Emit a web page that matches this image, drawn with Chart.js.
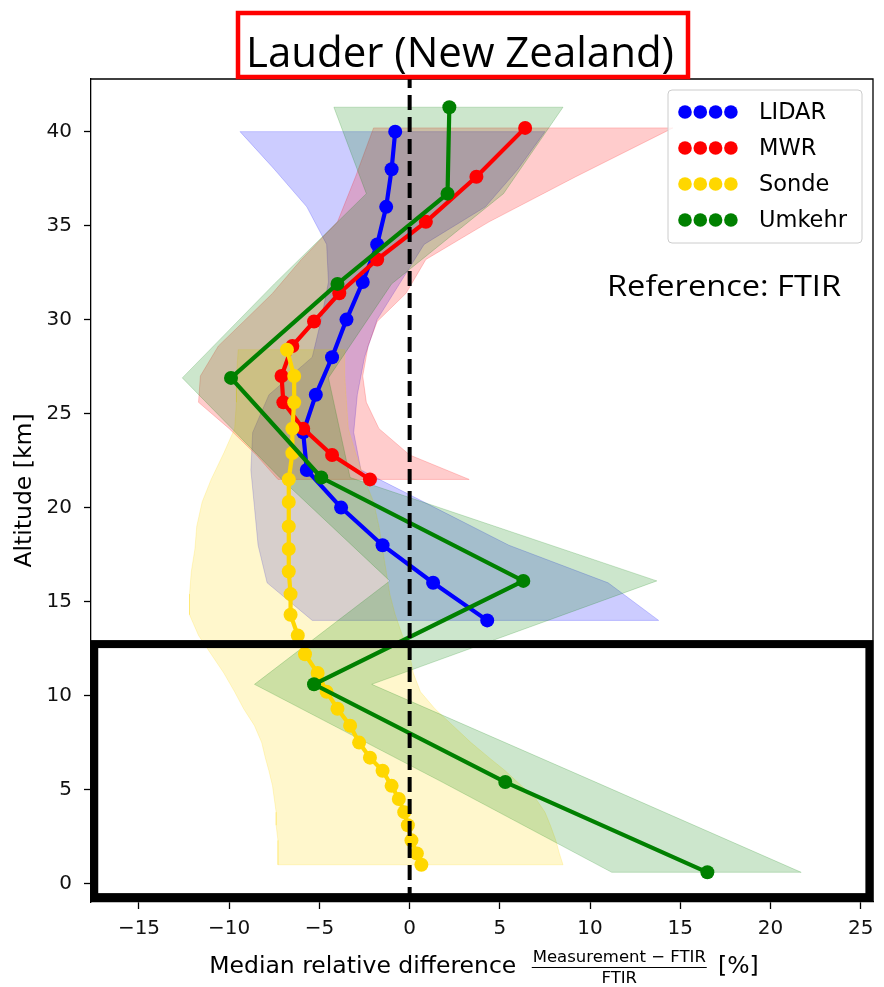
<!DOCTYPE html>
<html lang="en">
<head>
<meta charset="UTF-8">
<title>Lauder (New Zealand)</title>
<script src="https://cdn.jsdelivr.net/npm/chart.js@4.4.1/dist/chart.umd.min.js"></script>
<style>
    html, body { margin: 0; padding: 0; background: #fff; }
    #wrap { width: 884px; height: 987px; }
</style>
</head>
<body>
<div id="wrap"><canvas id="chart" width="884" height="987"></canvas></div>
<script>
// ---- data (x: % difference, y: altitude km) ----
const lidarAlt  = [40, 38, 36, 34, 32, 30, 28, 26, 24, 22, 20, 18, 16, 14];
const lidarDiff = [-0.8, -1.0, -1.3, -1.8, -2.6, -3.5, -4.3, -5.2, -5.9, -5.7, -3.8, -1.5, 1.3, 4.3];
const lidarLow  = [-9.4, -7.5, -5.7, -4.6, -4.5, -4.9, -5.4, -7.8, -8.7, -8.8, -8.6, -8.4, -7.9, -5.4];
const lidarHigh = [7.5, 6.0, 4.2, 0.8, -0.5, -1.8, -2.5, -2.9, -3.1, -2.7, 1.4, 5.5, 11.0, 13.8];

const mwrAlt  = [40.2, 37.6, 35.2, 33.2, 31.4, 29.9, 28.6, 27.0, 25.6, 24.2, 22.8, 21.5];
const mwrDiff = [6.4, 3.7, 0.9, -1.8, -3.9, -5.3, -6.5, -7.1, -7.0, -5.9, -4.3, -2.2];
const mwrLow  = [-2.0, -3.0, -4.0, -6.0, -7.6, -9.2, -10.6, -11.6, -11.7, -10.0, -8.5, -7.3];
const mwrHigh = [14.6, 9.2, 4.4, 0.9, -0.2, -1.8, -2.3, -2.6, -2.4, -1.7, 0.0, 3.3];

const sondeAlt  = [28.4, 27.0, 25.6, 24.2, 22.9, 21.5, 20.3, 19.0, 17.8, 16.6, 15.4, 14.3, 13.2, 12.2,
                   11.2, 10.2, 9.3, 8.4, 7.5, 6.7, 6.0, 5.2, 4.5, 3.8, 3.1, 2.3, 1.6, 1.0];
const sondeDiff = [-6.8, -6.4, -6.4, -6.5, -6.5, -6.7, -6.7, -6.7, -6.7, -6.7, -6.6, -6.6, -6.2, -5.8,
                   -5.1, -4.6, -4.0, -3.3, -2.8, -2.2, -1.5, -1.0, -0.6, -0.3, -0.1, 0.1, 0.4, 0.65];
const sondeLow  = [-9.5, -9.6, -9.6, -9.7, -10.3, -11.0, -11.5, -11.8, -11.9, -12.1, -12.2, -12.2, -11.7, -11.0,
                   -10.3, -9.7, -9.2, -8.6, -8.2, -8.0, -7.8, -7.6, -7.5, -7.4, -7.4, -7.3, -7.3, -7.3];
const sondeHigh = [-3.6, -3.6, -3.5, -3.4, -3.0, -2.5, -2.0, -1.7, -1.5, -1.3, -1.1, -0.8, -0.4, 0.0,
                   0.2, 0.6, 1.4, 2.4, 3.4, 4.4, 5.3, 6.2, 7.0, 7.5, 7.8, 8.1, 8.3, 8.5];

const umkehrAlt  = [41.3, 36.7, 31.9, 26.9, 21.6, 16.1, 10.6, 5.4, 0.6];
const umkehrDiff = [2.2, 2.1, -4.0, -9.9, -4.9, 6.3, -5.3, 5.3, 16.5];
const umkehrLow  = [-4.2, -2.4, -7.5, -12.6, -7.2, -1.1, -8.6, 1.8, 11.2];
const umkehrHigh = [8.5, 5.2, -1.0, -4.5, -3.3, 13.7, -2.1, 10.3, 21.7];

const seriesNames = ['LIDAR', 'MWR', 'Sonde', 'Umkehr'];
const seriesColors = ['rgb(0,0,255)', 'rgb(255,0,0)', 'rgb(255,215,0)', 'rgb(0,128,0)'];
const bandColors = ['rgba(0,0,255,0.2)', 'rgba(255,0,0,0.2)', 'rgba(255,215,0,0.2)', 'rgba(0,128,0,0.2)'];

const xTickVals = [-15, -10, -5, 0, 5, 10, 15, 20, 25];
const yTickVals = [0, 5, 10, 15, 20, 25, 30, 35, 40];
const xRange = [-17.66, 25.68];
const yRange = [-0.98, 42.8];
const refValue = 0;                       // FTIR reference line
const boxX = [-17.48, 25.48];             // highlighted troposphere box
const boxY = [-0.72, 12.74];

const FONT = '"DejaVu Sans", sans-serif';

// ---- build datasets ----
function profile(alt, diff) {
    return alt.map((a, i) => ({x: diff[i], y: a}));
}
function band(alt, low, high) {
    const pts = alt.map((a, i) => ({x: low[i], y: a}));
    for (let i = alt.length - 1; i >= 0; i--) pts.push({x: high[i], y: alt[i]});
    pts.push(pts[0]);
    return pts;
}

const profiles = [
    [lidarAlt, lidarDiff, lidarLow, lidarHigh],
    [mwrAlt, mwrDiff, mwrLow, mwrHigh],
    [sondeAlt, sondeDiff, sondeLow, sondeHigh],
    [umkehrAlt, umkehrDiff, umkehrLow, umkehrHigh]
];

const datasets = [];
profiles.forEach((p, i) => {
    datasets.push({
        label: seriesNames[i] + ' range',
        data: band(p[0], p[2], p[3]),
        showLine: true,
        fill: 'shape',
        backgroundColor: bandColors[i],
        borderColor: bandColors[i],
        borderWidth: 1,
        pointRadius: 0,
        order: 20 - i
    });
});
profiles.forEach((p, i) => {
    datasets.push({
        label: seriesNames[i],
        data: profile(p[0], p[1]),
        showLine: true,
        fill: false,
        borderColor: seriesColors[i],
        backgroundColor: seriesColors[i],
        borderWidth: 4.2,
        pointRadius: 7,
        pointBorderWidth: 0,
        pointBackgroundColor: seriesColors[i],
        order: 8 - i
    });
});
datasets.push({
    label: 'reference',
    data: [{x: refValue, y: yRange[0]}, {x: refValue, y: yRange[1]}],
    showLine: true,
    fill: false,
    borderColor: '#000',
    borderWidth: 4,
    borderDash: [15, 7],
    pointRadius: 0,
    order: 0
});

// ---- extra drawing: frame, highlight box, titles, legend ----
const decor = {
    id: 'decor',
    afterDatasetsDraw(chart) {
        const {ctx, chartArea: a, scales: {x, y}} = chart;
        ctx.save();
        ctx.strokeStyle = '#000';
        ctx.lineWidth = 1.3;
        ctx.beginPath();
        ctx.moveTo(a.left, a.top); ctx.lineTo(a.right, a.top); ctx.lineTo(a.right, a.bottom);
        ctx.stroke();

        const x0 = x.getPixelForValue(boxX[0]), x1 = x.getPixelForValue(boxX[1]);
        const y0 = y.getPixelForValue(boxY[1]), y1 = y.getPixelForValue(boxY[0]);
        ctx.lineWidth = 8;
        ctx.strokeRect(x0, y0, x1 - x0, y1 - y0);
        ctx.restore();
    },
    afterDraw(chart) {
        const {ctx, chartArea: a} = chart;
        ctx.save();

        // title in a red frame
        ctx.strokeStyle = 'rgb(255,0,0)';
        ctx.lineWidth = 4.5;
        ctx.strokeRect(238, 13, 450, 64);
        fitText(ctx, 'Lauder (New Zealand)', 460, 66.5, '42px "Open Sans", sans-serif', 428, '#000');

        // reference note
        fitText(ctx, 'Reference: FTIR', 724, 296, '29px "Open Sans", sans-serif', 234, '#000');

        // legend
        const lx = 668, ly = 90, lw = 194, lh = 153;
        ctx.beginPath();
        ctx.roundRect(lx, ly, lw, lh, 4);
        ctx.fillStyle = 'rgba(255,255,255,0.8)';
        ctx.fill();
        ctx.strokeStyle = '#cccccc';
        ctx.lineWidth = 1;
        ctx.stroke();
        ctx.font = '22.5px ' + FONT;
        ctx.textBaseline = 'middle';
        ctx.textAlign = 'left';
        seriesNames.forEach((name, i) => {
            const ry = ly + 22 + i * 36;
            ctx.fillStyle = seriesColors[i];
            for (let j = 0; j < 4; j++) {
                ctx.beginPath();
                ctx.arc(lx + 17 + j * 15.3, ry, 6.8, 0, Math.PI * 2);
                ctx.fill();
            }
            ctx.fillStyle = '#000';
            ctx.fillText(name, lx + 91, ry + 1);
        });

        // x-axis title with fraction
        const base = a.bottom + 71;
        const cx = (a.left + a.right) / 2 + 2;
        ctx.font = '23.5px ' + FONT;
        const t1 = 'Median relative difference';
        const t3 = '[%]';
        const w1 = ctx.measureText(t1).width;
        const w3 = ctx.measureText(t3).width;
        const fracW = 175, gap1 = 15.5, gap2 = 11.3;
        const total = w1 + gap1 + fracW + gap2 + w3;
        let sx = cx - total / 2;
        ctx.fillStyle = '#000';
        ctx.textBaseline = 'alphabetic';
        ctx.fillText(t1, sx, base);
        ctx.fillText(t3, sx + w1 + gap1 + fracW + gap2, base);
        const fx = sx + w1 + gap1 + fracW / 2;
        ctx.font = '16.5px ' + FONT;
        ctx.textAlign = 'center';
        ctx.fillText('Measurement \u2212 FTIR', fx, base - 11.5);
        ctx.fillText('FTIR', fx, base + 9.5);
        ctx.strokeStyle = '#000';
        ctx.lineWidth = 1;
        ctx.beginPath();
        ctx.moveTo(fx - fracW / 2, base - 5.5);
        ctx.lineTo(fx + fracW / 2, base - 5.5);
        ctx.stroke();
        ctx.restore();
    }
};

function fitText(ctx, text, cx, baseline, font, targetW, color) {
    ctx.save();
    ctx.font = font;
    const w = ctx.measureText(text).width;
    ctx.translate(cx, baseline);
    ctx.scale(targetW / w, 1);
    ctx.textAlign = 'center';
    ctx.textBaseline = 'alphabetic';
    ctx.fillStyle = color;
    ctx.fillText(text, 0, 0);
    ctx.restore();
}

const minus = v => String(v).replace('-', '\u2212');

new Chart(document.getElementById('chart'), {
    type: 'scatter',
    data: {datasets: datasets},
    options: {
        responsive: false,
        animation: false,
        devicePixelRatio: 1,
        layout: {padding: {top: 79, right: 11, left: 0, bottom: 0}},
        plugins: {
            legend: {display: false},
            tooltip: {enabled: false},
            title: {display: false}
        },
        scales: {
            x: {
                type: 'linear',
                min: xRange[0],
                max: xRange[1],
                afterBuildTicks: s => { s.ticks = xTickVals.map(v => ({value: v})); },
                afterFit: s => { s.height = 85; },
                grid: {display: true, drawOnChartArea: false, drawTicks: true, tickLength: 7, tickWidth: 1.3, tickColor: '#000'},
                border: {display: true, color: '#000', width: 1.3},
                ticks: {
                    font: {family: FONT, size: 20},
                    color: '#111',
                    padding: 8,
                    maxRotation: 0,
                    callback: minus
                }
            },
            y: {
                type: 'linear',
                min: yRange[0],
                max: yRange[1],
                afterBuildTicks: s => { s.ticks = yTickVals.map(v => ({value: v})); },
                afterFit: s => { s.width = 91; },
                grid: {display: true, drawOnChartArea: false, drawTicks: true, tickLength: 7, tickWidth: 1.3, tickColor: '#000'},
                border: {display: true, color: '#000', width: 1.3},
                ticks: {
                    font: {family: FONT, size: 20},
                    color: '#111',
                    padding: 12,
                    callback: minus
                },
                title: {
                    display: true,
                    text: 'Altitude [km]',
                    font: {family: FONT, size: 23.5},
                    color: '#000',
                    padding: {top: 11, bottom: 0}
                }
            }
        }
    },
    plugins: [decor]
});
</script>
</body>
</html>
